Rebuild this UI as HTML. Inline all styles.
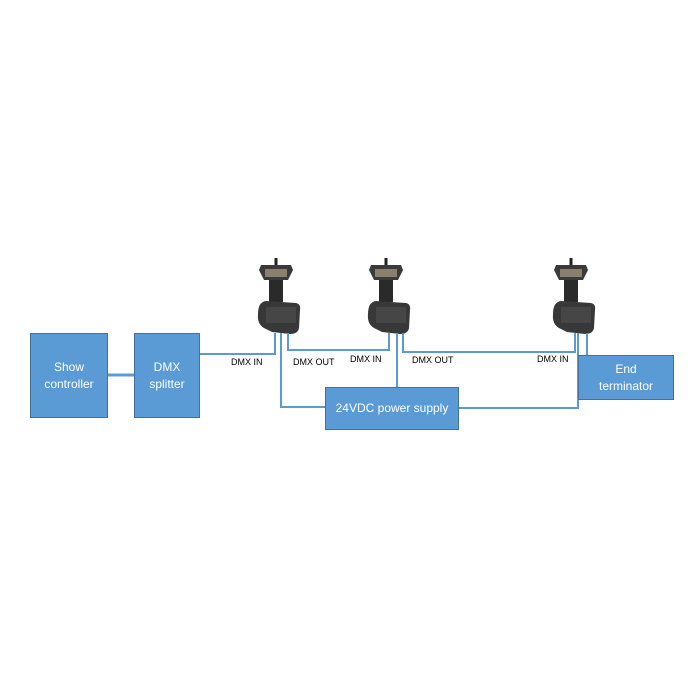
<!DOCTYPE html>
<html><head><style>
body{margin:0;background:#fff;}
.b{position:absolute;background:#5b9bd5;border:1px solid #41719c;box-sizing:border-box;color:#fff;font-family:"Liberation Sans",sans-serif;font-size:12px;display:flex;align-items:center;justify-content:center;text-align:center;line-height:17px;}
.l{position:absolute;font-family:"Liberation Sans",sans-serif;font-size:9px;color:#000;}
</style></head><body>
<div style="position:relative;width:700px;height:700px;">
<svg width="700" height="700" style="position:absolute;left:0;top:0">
<defs>
<g id="pump">
<rect x="-1.5" y="0" width="3" height="9" fill="#222"/>
<path d="M-15 7 L15 7 L17 12 L12 22 L-12 22 L-17 12 Z" fill="#3a3a3a"/>
<rect x="-11" y="11" width="22" height="8" fill="#8a8070"/>
<rect x="-7" y="22" width="14" height="22" fill="#2a2a2a"/>
<path d="M-10 43 L20 45 Q25 46 24 52 L23 70 Q22 76 14 76 L-4 74 L-12 70 Q-19 66 -18 56 Q-18 44 -10 43 Z" fill="#383838"/>
<rect x="-10" y="49" width="30" height="16" fill="#505050" opacity="0.6"/>
</g>
</defs>
<use href="#pump" x="276" y="258"/>
<use href="#pump" x="386" y="258"/>
<use href="#pump" x="571" y="258"/>
<g fill="none" stroke="#5b9bd5" stroke-width="2">
<polyline points="200,354 275,354 275,333"/>
<polyline points="281,333 281,407 325,407"/>
<polyline points="288,333 288,350 389,350 389,333"/>
<polyline points="397,333 397,387"/>
<polyline points="403,333 403,352 575,352 575,333"/>
<polyline points="578,333 578,408 459,408"/>
<polyline points="587,333 587,355"/>
<line x1="108" y1="375" x2="134" y2="375" stroke-width="3"/>
</g>
</svg>
<div class="b" style="left:30px;top:333px;width:78px;height:85px;">Show<br>controller</div>
<div class="b" style="left:134px;top:333px;width:66px;height:85px;">DMX<br>splitter</div>
<div class="b" style="left:325px;top:387px;width:134px;height:43px;">24VDC power supply</div>
<div class="b" style="left:578px;top:355px;width:96px;height:45px;">End<br>terminator</div>
<div class="l" style="left:231px;top:357px;">DMX IN</div>
<div class="l" style="left:293px;top:357px;">DMX OUT</div>
<div class="l" style="left:350px;top:354px;">DMX IN</div>
<div class="l" style="left:412px;top:355px;">DMX OUT</div>
<div class="l" style="left:537px;top:354px;">DMX IN</div>
</div>
</body></html>
